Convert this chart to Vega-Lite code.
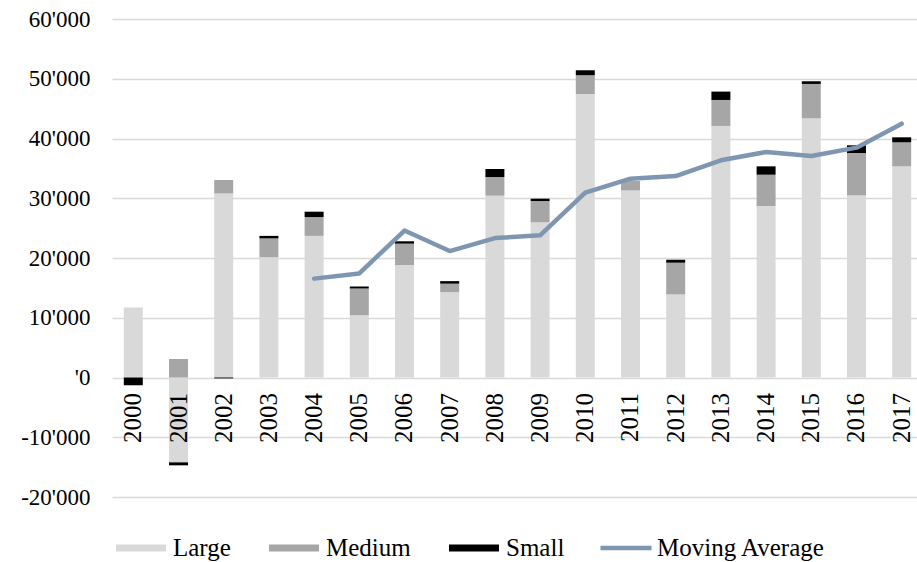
{
  "$schema": "https://vega.github.io/schema/vega-lite/v6.json",
  "width": 805,
  "height": 478,
  "autosize": {"type": "none"},
  "padding": {"left": 112, "top": 19, "right": 0, "bottom": 65},
  "background": "#ffffff",
  "datasets": {
    "bars": [
      {"year": "2000", "size": "Large", "value": 11700},
      {"year": "2000", "size": "Medium", "value": 0},
      {"year": "2000", "size": "Small", "value": -1300},
      {"year": "2001", "size": "Large", "value": -14200},
      {"year": "2001", "size": "Medium", "value": 3100},
      {"year": "2001", "size": "Small", "value": -500},
      {"year": "2002", "size": "Large", "value": 30800},
      {"year": "2002", "size": "Medium", "value": 2250},
      {"year": "2002", "size": "Small", "value": -150},
      {"year": "2003", "size": "Large", "value": 20150},
      {"year": "2003", "size": "Medium", "value": 3130},
      {"year": "2003", "size": "Small", "value": 420},
      {"year": "2004", "size": "Large", "value": 23700},
      {"year": "2004", "size": "Medium", "value": 3150},
      {"year": "2004", "size": "Small", "value": 900},
      {"year": "2005", "size": "Large", "value": 10400},
      {"year": "2005", "size": "Medium", "value": 4500},
      {"year": "2005", "size": "Small", "value": 350},
      {"year": "2006", "size": "Large", "value": 18800},
      {"year": "2006", "size": "Medium", "value": 3600},
      {"year": "2006", "size": "Small", "value": 400},
      {"year": "2007", "size": "Large", "value": 14300},
      {"year": "2007", "size": "Medium", "value": 1400},
      {"year": "2007", "size": "Small", "value": 430},
      {"year": "2008", "size": "Large", "value": 30430},
      {"year": "2008", "size": "Medium", "value": 3120},
      {"year": "2008", "size": "Small", "value": 1350},
      {"year": "2009", "size": "Large", "value": 25960},
      {"year": "2009", "size": "Medium", "value": 3570},
      {"year": "2009", "size": "Small", "value": 400},
      {"year": "2010", "size": "Large", "value": 47450},
      {"year": "2010", "size": "Medium", "value": 3140},
      {"year": "2010", "size": "Small", "value": 830},
      {"year": "2011", "size": "Large", "value": 31320},
      {"year": "2011", "size": "Medium", "value": 1560},
      {"year": "2011", "size": "Small", "value": 0},
      {"year": "2012", "size": "Large", "value": 13900},
      {"year": "2012", "size": "Medium", "value": 5310},
      {"year": "2012", "size": "Small", "value": 500},
      {"year": "2013", "size": "Large", "value": 42100},
      {"year": "2013", "size": "Medium", "value": 4350},
      {"year": "2013", "size": "Small", "value": 1400},
      {"year": "2014", "size": "Large", "value": 28700},
      {"year": "2014", "size": "Medium", "value": 5240},
      {"year": "2014", "size": "Small", "value": 1400},
      {"year": "2015", "size": "Large", "value": 43380},
      {"year": "2015", "size": "Medium", "value": 5750},
      {"year": "2015", "size": "Small", "value": 450},
      {"year": "2016", "size": "Large", "value": 30490},
      {"year": "2016", "size": "Medium", "value": 7080},
      {"year": "2016", "size": "Small", "value": 1290},
      {"year": "2017", "size": "Large", "value": 35340},
      {"year": "2017", "size": "Medium", "value": 4020},
      {"year": "2017", "size": "Small", "value": 840}
    ],
    "ma": [
      {"year": "2004", "series": "Moving Average", "value": 16550},
      {"year": "2005", "series": "Moving Average", "value": 17420},
      {"year": "2006", "series": "Moving Average", "value": 24600},
      {"year": "2007", "series": "Moving Average", "value": 21160},
      {"year": "2008", "series": "Moving Average", "value": 23330},
      {"year": "2009", "series": "Moving Average", "value": 23790},
      {"year": "2010", "series": "Moving Average", "value": 30940},
      {"year": "2011", "series": "Moving Average", "value": 33280},
      {"year": "2012", "series": "Moving Average", "value": 33720},
      {"year": "2013", "series": "Moving Average", "value": 36350},
      {"year": "2014", "series": "Moving Average", "value": 37740},
      {"year": "2015", "series": "Moving Average", "value": 37070},
      {"year": "2016", "series": "Moving Average", "value": 38470},
      {"year": "2017", "series": "Moving Average", "value": 42480}
    ]
  },
  "encoding": {
    "x": {
      "field": "year",
      "type": "ordinal",
      "scale": {
        "domain": ["2000","2001","2002","2003","2004","2005","2006","2007","2008","2009","2010","2011","2012","2013","2014","2015","2016","2017"],
        "paddingInner": 0.58,
        "paddingOuter": 0.195,
        "align": 0.67
      },
      "axis": {
        "title": null,
        "orient": "bottom",
        "offset": -119.5,
        "zindex": 1,
        "domain": false,
        "ticks": false,
        "tickSize": 0,
        "grid": false,
        "labelAngle": 270,
        "labelPadding": 15,
        "labelFont": "Liberation Serif, Times New Roman, DejaVu Serif, serif",
        "labelFontSize": 25,
        "labelColor": "#000000"
      }
    }
  },
  "layer": [
    {
      "data": {"name": "bars"},
      "mark": {"type": "bar", "strokeWidth": 0},
      "encoding": {
        "y": {
          "field": "value",
          "type": "quantitative",
          "stack": "zero",
          "scale": {"domain": [-20000, 60000], "nice": false, "zero": false},
          "axis": {
            "title": null,
            "values": [-20000, -10000, 0, 10000, 20000, 30000, 40000, 50000, 60000],
            "domain": false,
            "ticks": false,
            "tickSize": 0,
            "grid": true,
            "gridColor": "#d9d9d9",
            "gridWidth": 1.5,
            "labelPadding": 22,
            "labelFont": "Liberation Serif, Times New Roman, DejaVu Serif, serif",
            "labelFontSize": 23,
            "labelColor": "#000000",
            "labelExpr": "datum.value == 0 ? \"'0\" : (datum.value < 0 ? '-' : '') + replace(format(abs(datum.value), ','), ',', \"'\")"
          }
        },
        "fill": {
          "field": "size",
          "type": "nominal",
          "scale": {"domain": ["Large", "Medium", "Small"], "range": ["#d9d9d9", "#a6a6a6", "#000000"]},
          "legend": {
            "title": null,
            "orient": "none",
            "direction": "horizontal",
            "legendX": 4,
            "legendY": 504,
            "padding": 0,
            "symbolType": "M-1,-0.14H1V0.14H-1Z",
            "symbolSize": 2500,
            "symbolStrokeWidth": 0,
            "labelOffset": 7,
            "columnPadding": 38,
            "labelFont": "Liberation Serif, Times New Roman, DejaVu Serif, serif",
            "labelFontSize": 25,
            "labelColor": "#000000",
            "labelLimit": 400
          }
        },
        "order": {"field": "size", "sort": "ascending"}
      }
    },
    {
      "data": {"name": "ma"},
      "mark": {"type": "line", "strokeWidth": 4.5, "strokeCap": "round", "strokeJoin": "round"},
      "encoding": {
        "y": {"field": "value", "type": "quantitative"},
        "stroke": {
          "field": "series",
          "type": "nominal",
          "scale": {"domain": ["Moving Average"], "range": ["#7f96b1"]},
          "legend": {
            "title": null,
            "orient": "none",
            "direction": "horizontal",
            "legendX": 486,
            "legendY": 501,
            "padding": 0,
            "symbolType": "stroke",
            "symbolSize": 2601,
            "symbolStrokeWidth": 4.5,
            "labelOffset": 3,
            "labelFont": "Liberation Serif, Times New Roman, DejaVu Serif, serif",
            "labelFontSize": 25,
            "labelColor": "#000000",
            "labelLimit": 400
          }
        }
      }
    }
  ],
  "resolve": {"scale": {"fill": "independent", "stroke": "independent"}},
  "config": {
    "view": {"stroke": null},
    "font": "Liberation Serif, Times New Roman, DejaVu Serif, serif"
  }
}
